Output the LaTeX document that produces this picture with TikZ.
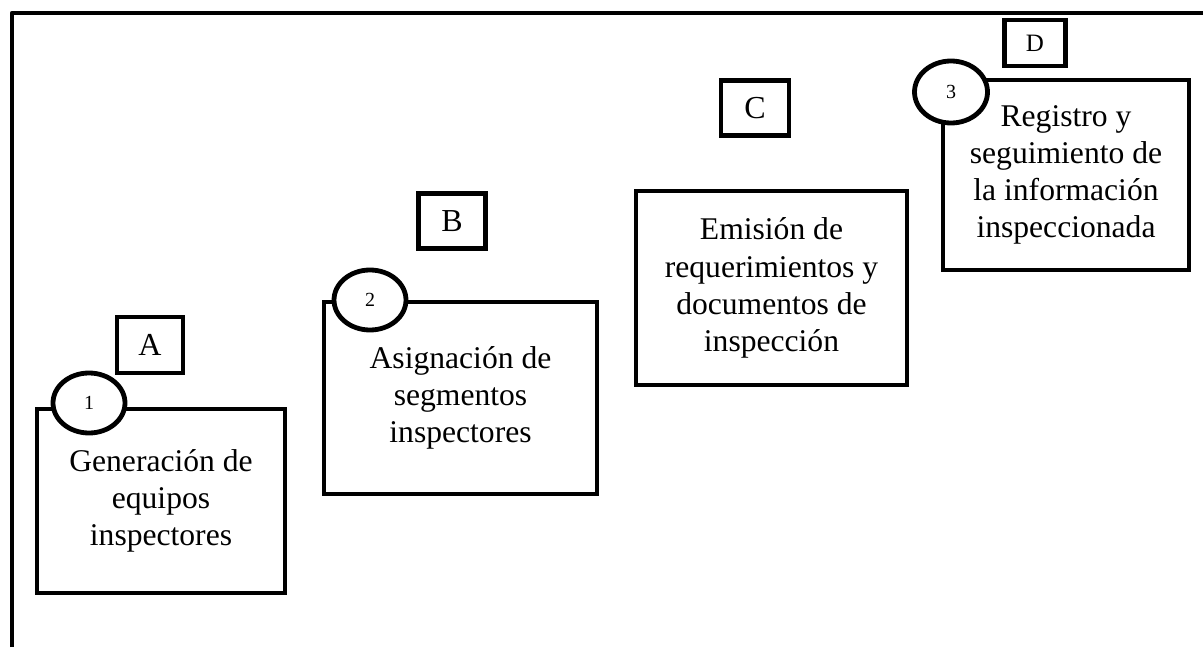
\documentclass[tikz,border=0pt]{standalone}
\usepackage{fontspec}
\setmainfont{Liberation Serif}
\usepackage{tikz}
\usetikzlibrary{positioning,shapes}
\tikzstyle{paso}=[%
      rectangle, draw=black, line width=2.4pt, fill=none,
      align=center, inner sep=0pt, font=\fontsize{15.8}{18.6}\selectfont
]
\tikzstyle{letra}=[%
      rectangle, draw=black, line width=2.4pt, fill=none,
      inner sep=0pt, font=\fontsize{16}{18.6}\selectfont
]
\tikzstyle{num}=[%
      ellipse, draw=black, line width=2.4pt, fill=white,
      inner sep=0pt, font=\fontsize{10}{11}\selectfont
]

\begin{document}
\begin{tikzpicture}[x=0.5pt, y=-0.5pt]
    \useasboundingbox (0,0) rectangle (1203,647);
    % marco
    \draw[line width=2.4pt, line join=round] (12,647) -- (12,13) -- (1203,13);

    \node[paso, minimum width=124pt, minimum height=92pt]   (pasoA) at (161,501)    {Generación de\\equipos\\inspectores};
    \node[paso, minimum width=136.5pt, minimum height=96pt] (pasoB) at (460.5,398)  {Asignación de\\segmentos\\inspectores};
    \node[paso, minimum width=135.5pt, minimum height=97pt] (pasoC) at (771.5,288)  {Emisión de\\requerimientos y\\documentos de\\inspección};
    \node[paso, minimum width=123pt, minimum height=95pt]   (pasoD) at (1066,175)   {Registro y\\seguimiento de\\la información\\inspeccionada};

    \node[letra, minimum width=33pt, minimum height=28pt]   (letraA) at (150,345) {A};
    \node[letra, minimum width=33.5pt, minimum height=27.5pt] (letraB) at (452,221) {B};
    \node[letra, minimum width=34pt, minimum height=27.5pt] (letraC) at (755,108) {C};
    \node[letra, minimum width=30.5pt, minimum height=23pt, font=\fontsize{12.5}{14}\selectfont] (letraD) at (1035,43) {D};

    \node[num, minimum width=36pt, minimum height=30pt]     (num1) at (89,403)  {1};
    \node[num, minimum width=36pt, minimum height=30pt]     (num2) at (370,300) {2};
    \node[num, minimum width=36.5pt, minimum height=31pt]   (num3) at (951,92)  {3};
\end{tikzpicture}
\end{document}
